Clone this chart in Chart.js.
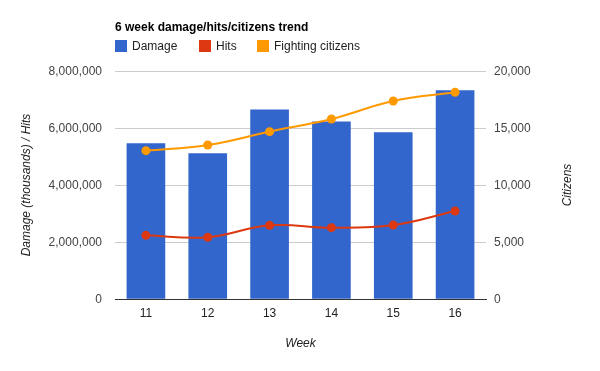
<!DOCTYPE html>
<html>
<head>
<meta charset="utf-8">
<script src="https://cdn.jsdelivr.net/npm/chart.js@4"></script>
<style>
  html, body { margin: 0; padding: 0; background: #fff; }
  #wrap { width: 600px; height: 371px; }
</style>
</head>
<body>
<div id="wrap"><canvas id="trendChart" width="600" height="371"></canvas></div>
<script>
// -----------------------
// Data
// -----------------------
const weeks = ['11', '12', '13', '14', '15', '16'];
const damage = [5450000, 5100000, 6640000, 6220000, 5840000, 7310000];
const hits = [2234000, 2164000, 2585000, 2503000, 2596000, 3088000];
const citizens = [13010, 13510, 14680, 15790, 17370, 18130];
const leftTicks = [0, 2000000, 4000000, 6000000, 8000000];
const rightTicks = [0, 5000, 10000, 15000, 20000];

const titleText = '6 week damage/hits/citizens trend';
const fontFamily = 'Arial, "Liberation Sans", sans-serif';

// -----------------------
// Title, legend and right-axis title (Google style)
// -----------------------
const headerPlugin = {
  id: 'header',
  afterDraw(chart) {
    const ctx = chart.ctx;
    ctx.save();
    ctx.textBaseline = 'alphabetic';
    ctx.textAlign = 'left';
    ctx.fillStyle = '#000';
    ctx.font = 'bold 12px ' + fontFamily;
    ctx.fillText(titleText, 115, 31);

    // legend entries
    const items = [
      { label: 'Damage', color: '#3366cc', x: 115 },
      { label: 'Hits', color: '#dc3912', x: 199 },
      { label: 'Fighting citizens', color: '#ff9900', x: 257 }
    ];
    ctx.font = '12px ' + fontFamily;
    items.forEach(it => {
      ctx.fillStyle = it.color;
      ctx.fillRect(it.x, 40, 12, 12);
      ctx.fillStyle = '#222';
      ctx.fillText(it.label, it.x + 17, 50);
    });

    // right axis title, reading bottom to top
    const area = chart.chartArea;
    ctx.translate(568, (area.top + area.bottom) / 2);
    ctx.rotate(-Math.PI / 2);
    ctx.textAlign = 'center';
    ctx.textBaseline = 'middle';
    ctx.font = 'italic 12px ' + fontFamily;
    ctx.fillStyle = '#222';
    ctx.fillText('Citizens', 0, 0);
    ctx.restore();
  }
};

const fmt = v => Number(v).toLocaleString('en-US');

const ctx = document.getElementById('trendChart').getContext('2d');
new Chart(ctx, {
  data: {
    labels: weeks,
    datasets: [
      {
        type: 'line',
        label: 'Fighting citizens',
        data: citizens,
        yAxisID: 'y1',
        borderColor: '#ff9900',
        backgroundColor: '#ff9900',
        borderWidth: 2,
        pointRadius: 4.5,
        pointBorderWidth: 0,
        tension: 0.4,
        order: 0
      },
      {
        type: 'line',
        label: 'Hits',
        data: hits,
        yAxisID: 'y',
        borderColor: '#dc3912',
        backgroundColor: '#dc3912',
        borderWidth: 2,
        pointRadius: 4.5,
        pointBorderWidth: 0,
        tension: 0.4,
        order: 1
      },
      {
        type: 'bar',
        label: 'Damage',
        data: damage,
        yAxisID: 'y',
        backgroundColor: '#3366cc',
        barThickness: 38,
        order: 2
      }
    ]
  },
  options: {
    responsive: false,
    animation: false,
    events: [],
    layout: { padding: { top: 71, left: 0, right: 0, bottom: 0 } },
    plugins: {
      legend: { display: false },
      title: { display: false },
      tooltip: { enabled: false }
    },
    scales: {
      x: {
        grid: { display: false, drawTicks: false },
        border: { display: true, color: '#333', width: 1 },
        ticks: { color: '#222', padding: 7, font: { size: 12, family: fontFamily } },
        title: {
          display: true,
          text: 'Week',
          color: '#222',
          font: { size: 12, style: 'italic', family: fontFamily },
          padding: { top: 0, bottom: 20 }
        },
        afterFit: s => { s.height = 72; }
      },
      y: {
        position: 'left',
        min: 0,
        max: 8000000,
        afterBuildTicks: s => { s.ticks = leftTicks.map(v => ({ value: v })); },
        grid: {
          drawTicks: false,
          color: c => (c.tick && c.tick.value === 0 ? '#333' : '#cccccc')
        },
        border: { display: false },
        ticks: { color: '#444', padding: 13, labelOffset: 1, callback: fmt, font: { size: 12, family: fontFamily } },
        title: {
          display: true,
          text: 'Damage (thousands) / Hits',
          color: '#222',
          font: { size: 12, style: 'italic', family: fontFamily },
          padding: { top: 19, bottom: 0 }
        },
        afterFit: s => { s.width = 115; }
      },
      y1: {
        position: 'right',
        min: 0,
        max: 20000,
        afterBuildTicks: s => { s.ticks = rightTicks.map(v => ({ value: v })); },
        grid: { display: false, drawTicks: false },
        border: { display: false },
        ticks: { color: '#444', padding: 8, labelOffset: 1, callback: fmt, font: { size: 12, family: fontFamily } },
        afterFit: s => { s.width = 114; }
      }
    }
  },
  plugins: [headerPlugin]
});
</script>
</body>
</html>
